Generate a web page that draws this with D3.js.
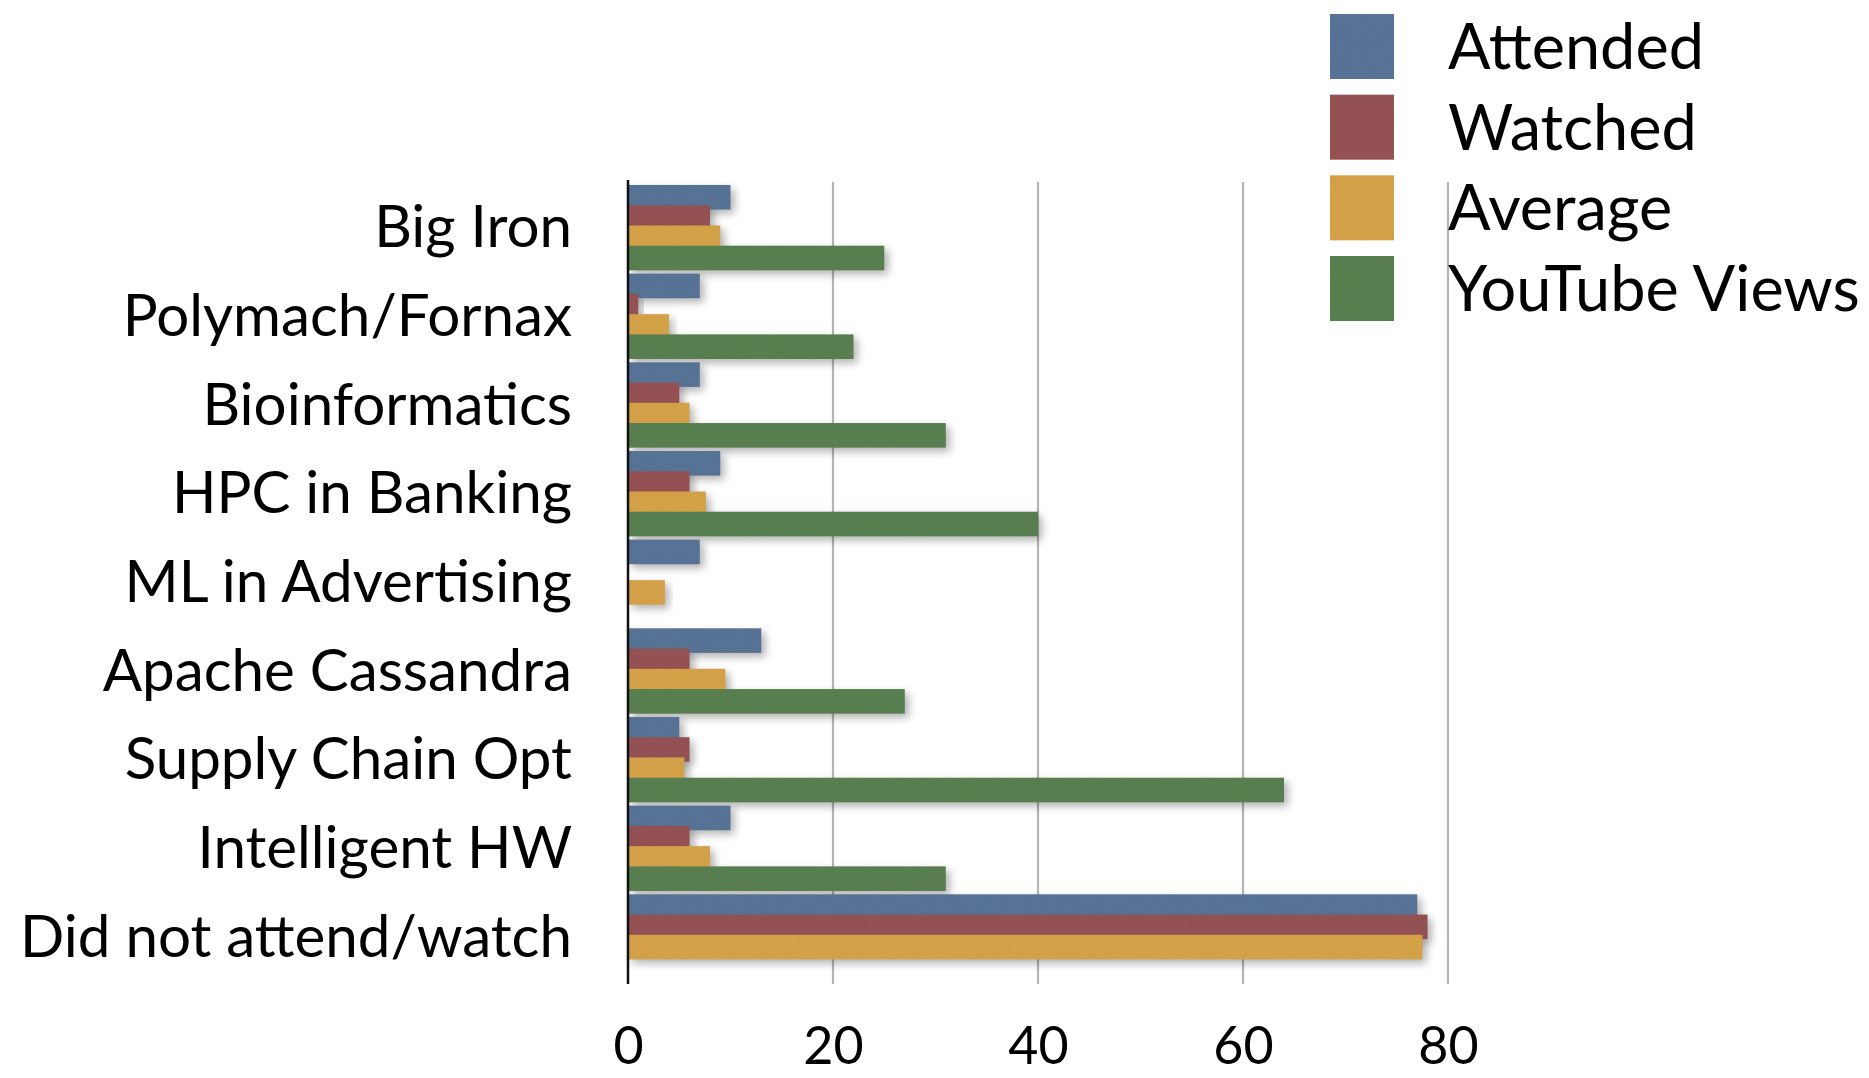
<!DOCTYPE html>
<html>
<head>
<meta charset="utf-8">
<script src="https://cdn.jsdelivr.net/npm/d3@7"></script>
<style>
  body { margin: 0; background: #fff; }
  svg { display: block; }
  text { font-family: Lato, "Open Sans", sans-serif; fill: #000; }
</style>
</head>
<body>
<svg id="chart" width="1869" height="1078"></svg>
<script>
var categories = ["Big Iron", "Polymach/Fornax", "Bioinformatics", "HPC in Banking",
    "ML in Advertising", "Apache Cassandra", "Supply Chain Opt", "Intelligent HW",
    "Did not attend/watch"];
var seriesNames = ["Attended", "Watched", "Average", "YouTube Views"];
var attended = [10, 7, 7, 9, 7, 13, 5, 10, 77];
var watched = [8, 1, 5, 6, 0, 6, 6, 6, 78];
var average = [9, 4, 6, 7.6, 3.6, 9.5, 5.5, 8, 77.5];
var youtube = [25, 22, 31, 40, 0, 27, 64, 31, 0];
var xTicks = [0, 20, 40, 60, 80];
var colors = ["#5a7698", "#985557", "#d8a64b", "#5c8252"];

var seriesValues = [attended, watched, average, youtube];
var svg = d3.select("#chart");

// filters: soft shadow + a bit of paper texture
var defs = svg.append("defs");
var f = defs.append("filter").attr("id", "barFx")
    .attr("x", "-5%").attr("y", "-30%").attr("width", "115%").attr("height", "180%");
f.append("feTurbulence").attr("type", "fractalNoise").attr("baseFrequency", 0.9)
    .attr("numOctaves", 2).attr("seed", 3).attr("result", "noise");
f.append("feColorMatrix").attr("in", "noise").attr("type", "matrix")
    .attr("values", "0 0 0 0 0  0 0 0 0 0  0 0 0 0 0  0 0 0 0.12 0").attr("result", "grain");
f.append("feComposite").attr("in", "grain").attr("in2", "SourceGraphic")
    .attr("operator", "in").attr("result", "grainIn");
f.append("feMerge").selectAll("feMergeNode")
    .data(["SourceGraphic", "grainIn"]).enter().append("feMergeNode").attr("in", function(d) { return d; });
var fs = defs.append("filter").attr("id", "shadow")
    .attr("x", "-5%").attr("y", "-40%").attr("width", "115%").attr("height", "200%");
fs.append("feGaussianBlur").attr("stdDeviation", 4);

var x = d3.scaleLinear().domain([0, 80]).range([628, 1448]);
var y = d3.scaleBand().domain(categories).range([181, 979]);
var bw = y.bandwidth();
var sub = d3.scaleLinear().domain([0, 3]).range([bw * 0.045, bw * 0.73]);
var barH = bw * 0.277;

// gridlines
svg.append("g").selectAll("line")
    .data(xTicks.slice(1))
    .enter().append("line")
    .attr("x1", function(d) { return x(d); })
    .attr("x2", function(d) { return x(d); })
    .attr("y1", 182)
    .attr("y2", 984)
    .style("stroke", "#b4b4b4")
    .style("stroke-width", 2.2);

// bars
var rows = [];
categories.forEach(function(c, ci) {
    seriesValues.forEach(function(vals, si) {
        if (vals[ci] > 0) rows.push({ cat: c, s: si, v: vals[ci] });
    });
});

svg.append("g").selectAll("rect")
    .data(rows)
    .enter().append("rect")
    .attr("x", x(0) + 4)
    .attr("y", function(d) { return y(d.cat) + sub(d.s) + 4; })
    .attr("width", function(d) { return x(d.v) - x(0); })
    .attr("height", barH)
    .style("fill", "#000")
    .style("opacity", 0.3)
    .attr("filter", "url(#shadow)");

svg.append("g").selectAll("rect")
    .data(rows)
    .enter().append("rect")
    .attr("x", x(0))
    .attr("y", function(d) { return y(d.cat) + sub(d.s); })
    .attr("width", function(d) { return x(d.v) - x(0); })
    .attr("height", barH)
    .style("fill", function(d) { return colors[d.s]; })
    .attr("filter", "url(#barFx)");

// left axis line
svg.append("line")
    .attr("x1", x(0)).attr("x2", x(0))
    .attr("y1", 180).attr("y2", 984)
    .style("stroke", "#111")
    .style("stroke-width", 2.5);

// category labels, fit the font to the widest label
var catG = svg.append("g");
var probe = catG.append("text").style("font-size", "100px").text(categories[8]);
var catSize = 100 * 552 / probe.node().getComputedTextLength();
probe.remove();
catSize = Math.min(catSize, 62);
catG.selectAll("text")
    .data(categories)
    .enter().append("text")
    .attr("x", 572)
    .attr("y", function(d) { return y(d) + bw / 2 + 22; })
    .attr("text-anchor", "end")
    .style("font-size", catSize + "px")
    .text(function(d) { return d; });

// x axis tick labels
var xAxis = d3.axisBottom(x).tickValues(xTicks).tickSize(0).tickFormat(d3.format("d"));
var ax = svg.append("g").attr("transform", "translate(0,980)").call(xAxis);
ax.select(".domain").remove();
ax.selectAll("text")
    .attr("y", 84)
    .attr("dy", null)
    .style("font-family", "Lato, sans-serif")
    .style("font-size", "52px")
    .style("fill", "#000");

// legend
var leg = svg.append("g");
var legY = d3.scaleLinear().domain([0, 3]).range([14, 256]);
leg.selectAll("rect")
    .data(seriesNames)
    .enter().append("rect")
    .attr("x", 1330)
    .attr("y", function(d, i) { return legY(i); })
    .attr("width", 64)
    .attr("height", 65)
    .style("fill", function(d, i) { return colors[i]; })
    .attr("filter", "url(#barFx)");
var lp = leg.append("text").style("font-size", "100px").text(seriesNames[3]);
var legSize = 100 * 412 / lp.node().getComputedTextLength();
lp.remove();
legSize = Math.min(legSize, 64);
leg.selectAll("text")
    .data(seriesNames)
    .enter().append("text")
    .attr("x", 1448)
    .attr("y", function(d, i) { return legY(i) + 55; })
    .style("font-size", legSize + "px")
    .text(function(d) { return d; });
</script>
</body>
</html>
